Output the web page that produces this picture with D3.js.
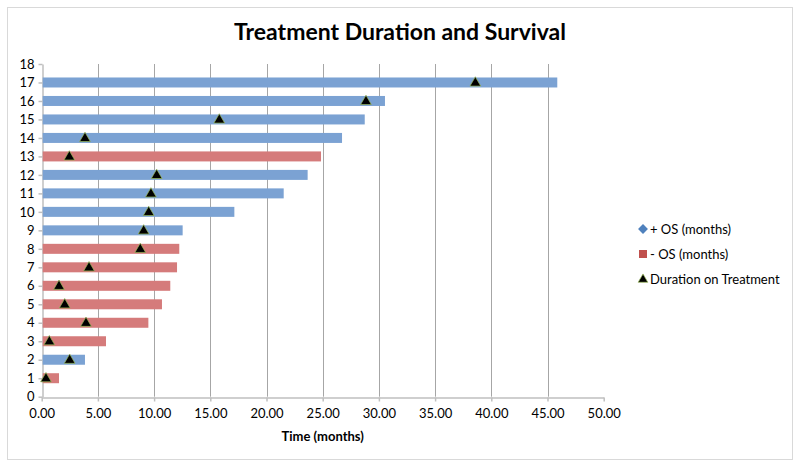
<!DOCTYPE html>
<html>
<head>
<meta charset="utf-8">
<script src="https://cdn.jsdelivr.net/npm/d3@7/dist/d3.min.js"></script>
<style>
  html, body { margin: 0; padding: 0; background: #fff; }
  svg { display: block; font-family: Lato, "Open Sans", sans-serif; }
</style>
</head>
<body>
<svg id="chart" width="800" height="467"></svg>
<script>
// ---- data ----
const patients = [1, 2, 3, 4, 5, 6, 7, 8, 9, 10, 11, 12, 13, 14, 15, 16, 17];
const plusOS  = [null, 3.85, null, null, null, null, null, null, 12.54, 17.14, 21.53, 23.66, null, 26.72, 28.74, 30.54, 45.87];
const minusOS = [1.54, null, 5.72, 9.49, 10.70, 11.44, 12.04, 12.24, null, null, null, null, 24.85, null, null, null, null];
const durationOnTreatment = [0.38, 2.49, 0.68, 3.94, 2.05, 1.54, 4.21, 8.77, 9.07, 9.52, 9.72, 10.23, 2.46, 3.85, 15.8, 28.85, 38.58];
const xTicks = [0, 5, 10, 15, 20, 25, 30, 35, 40, 45, 50];
const yTicks = [0, 1, 2, 3, 4, 5, 6, 7, 8, 9, 10, 11, 12, 13, 14, 15, 16, 17, 18];
const seriesNames = ["+ OS (months)", "- OS (months)", "Duration on Treatment"];
const title = "Treatment Duration and Survival";
const xTitle = "Time (months)";

// ---- styles ----
const blue = "#7ba2d3";
const red = "#d57b7b";
const gridColor = "#a6a6a6";
const axisColor = "#bfbfbf";

const svg = d3.select("#chart");

// outer border
svg.append("rect").attr("x", 7.5).attr("y", 7.5).attr("width", 785).attr("height", 452)
  .attr("fill", "#fff").attr("stroke", "#d9d9d9").attr("stroke-width", 1);

const x = d3.scaleLinear().domain([0, 50]).range([41.7, 603.7]);
const y = d3.scaleLinear().domain([0, 18]).range([396.7, 64]);
const barH = 10;

// title
svg.append("text").attr("x", 400).attr("y", 40).attr("text-anchor", "middle")
  .attr("font-size", 23).attr("font-weight", "bold").attr("fill", "#000").text(title);

// vertical gridlines
svg.append("g").selectAll("line").data(xTicks.filter(d => d > 0 && d < 50)).join("line")
  .attr("x1", d => Math.round(x(d)) + 0.5).attr("x2", d => Math.round(x(d)) + 0.5)
  .attr("y1", y(18)).attr("y2", y(0))
  .attr("stroke", gridColor).attr("stroke-width", 1);

// x axis
const xAxis = d3.axisBottom(x).tickValues(xTicks).tickFormat(d3.format(".2f")).tickSize(4).tickSizeOuter(0);
const gx = svg.append("g").attr("transform", `translate(0,${Math.round(y(0)) + 0.5})`).call(xAxis);
gx.select(".domain").attr("stroke", axisColor).attr("stroke-width", 1.5);
gx.selectAll(".tick line").attr("stroke", axisColor).attr("stroke-width", 1.5);
gx.selectAll(".tick text").attr("font-size", 13).attr("fill", "#000").attr("font-family", "Lato, sans-serif").attr("dy", "1.05em");

// y axis
const yAxis = d3.axisLeft(y).tickValues(yTicks).tickFormat(d3.format("d")).tickSize(4).tickSizeOuter(0);
const gy = svg.append("g").attr("transform", `translate(${Math.round(x(0)) + 0.5},0)`).call(yAxis);
gy.select(".domain").attr("stroke", axisColor).attr("stroke-width", 1.5);
gy.selectAll(".tick line").attr("stroke", axisColor).attr("stroke-width", 1.5);
gy.selectAll(".tick text").attr("font-size", 13).attr("fill", "#000").attr("font-family", "Lato, sans-serif").attr("x", -8);

// bars
const plusData = patients.map((p, i) => ({ p, v: plusOS[i] })).filter(d => d.v != null);
const minusData = patients.map((p, i) => ({ p, v: minusOS[i] })).filter(d => d.v != null);
svg.append("g").selectAll("rect").data(plusData).join("rect")
  .attr("x", x(0) + 1).attr("y", d => y(d.p) - barH / 2)
  .attr("width", d => x(d.v) - x(0) - 1).attr("height", barH).attr("fill", blue);
svg.append("g").selectAll("rect").data(minusData).join("rect")
  .attr("x", x(0) + 1).attr("y", d => y(d.p) - barH / 2)
  .attr("width", d => x(d.v) - x(0) - 1).attr("height", barH).attr("fill", red);

// triangles
const tri = d3.symbol().type(d3.symbolTriangle).size(50);
svg.append("g").selectAll("path").data(patients.map((p, i) => ({ p, v: durationOnTreatment[i] }))).join("path")
  .attr("d", tri)
  .attr("transform", d => `translate(${x(d.v)},${y(d.p) + 0.5})`)
  .attr("fill", "#000").attr("stroke", "#9bbb59").attr("stroke-width", 0.7);

// x title
svg.append("text").attr("x", x(25)).attr("y", 441).attr("text-anchor", "middle")
  .attr("font-size", 13).attr("font-weight", "bold").attr("fill", "#000").text(xTitle);

// legend
const lg = svg.append("g");
const ly = [229, 254, 279];
lg.append("rect").attr("x", -3.5).attr("y", -3.5).attr("width", 7).attr("height", 7)
  .attr("transform", `translate(643,${ly[0]}) rotate(45)`).attr("fill", "#4f81bd");
lg.append("rect").attr("x", 639).attr("y", ly[1] - 4).attr("width", 8).attr("height", 8).attr("fill", "#c0504d");
lg.append("path").attr("d", d3.symbol().type(d3.symbolTriangle).size(40))
  .attr("transform", `translate(643,${ly[2] + 0.5})`).attr("fill", "#000").attr("stroke", "#9bbb59").attr("stroke-width", 0.7);
lg.selectAll("text").data(seriesNames).join("text")
  .attr("x", 650).attr("y", (d, i) => ly[i]).attr("dy", "0.35em")
  .attr("font-size", 13).attr("fill", "#000").text(d => d);
</script>
</body>
</html>
